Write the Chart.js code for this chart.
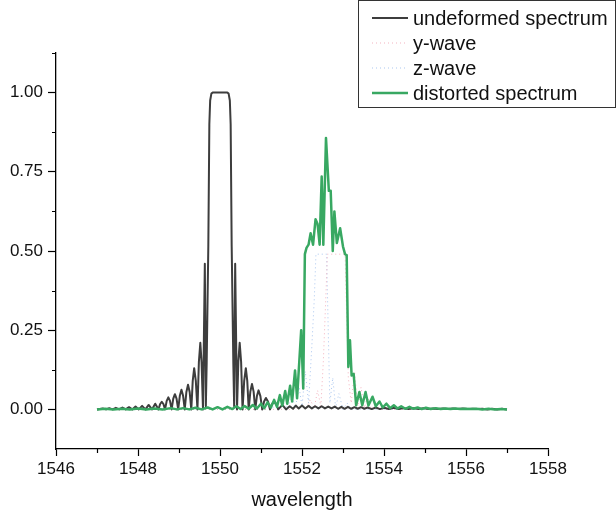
<!DOCTYPE html>
<html>
<head>
<meta charset="utf-8">
<script src="https://cdn.jsdelivr.net/npm/chart.js"></script>
<style>
  body { margin: 0; background: #fff; }
  #wrap { width: 616px; height: 514px; }
</style>
</head>
<body>
<div id="wrap"><canvas id="spec" width="616" height="514"></canvas></div>
<script>
// tick values
const xTicks = [1546, 1548, 1550, 1552, 1554, 1556, 1558];
const xMinor = [1547, 1549, 1551, 1553, 1555, 1557];
const yTicks = [0, 0.25, 0.5, 0.75, 1];
const yMinor = [0.125, 0.375, 0.625, 0.875, 1.125];

// undeformed spectrum
const undefX = [1547.00, 1547.14, 1547.22, 1547.30, 1547.38, 1547.46, 1547.54, 1547.62, 1547.70, 1547.78,
  1547.86, 1547.94, 1548.02, 1548.10, 1548.18, 1548.26, 1548.34, 1548.42, 1548.50,
  1548.54, 1548.58, 1548.62, 1548.66, 1548.70, 1548.74, 1548.78, 1548.82, 1548.86, 1548.90, 1548.94,
  1548.98, 1549.02, 1549.06, 1549.10, 1549.14, 1549.18, 1549.22, 1549.26, 1549.30, 1549.335,
  1549.37, 1549.41, 1549.45, 1549.485, 1549.52, 1549.55, 1549.585, 1549.63, 1549.655, 1549.675,
  1549.715, 1549.74, 1549.76, 1549.79, 1549.82, 1550.18, 1550.21, 1550.24, 1550.26, 1550.285,
  1550.325, 1550.345, 1550.37, 1550.415, 1550.447, 1550.48, 1550.515, 1550.55, 1550.59, 1550.63,
  1550.665, 1550.70, 1550.74, 1550.78, 1550.82, 1550.86, 1550.90, 1550.94, 1550.985, 1551.03,
  1551.075, 1551.12, 1551.17, 1551.22, 1551.27, 1551.32, 1551.37, 1551.42,
  1551.52, 1551.61, 1551.70, 1551.78, 1551.85, 1551.92, 1552.00, 1552.08,
  1552.16, 1552.24, 1552.32, 1552.40, 1552.48, 1552.56, 1552.64, 1552.72, 1552.80, 1552.88,
  1552.96, 1553.04, 1553.12, 1553.20, 1553.28, 1553.36, 1553.44, 1553.52, 1553.60, 1553.70,
  1553.80, 1553.90, 1554.00, 1554.12, 1554.24, 1554.36, 1554.48, 1554.60, 1554.72, 1554.84,
  1554.96, 1555.08, 1555.20, 1555.32, 1555.44, 1555.56, 1555.68, 1555.80, 1555.92, 1556.04,
  1556.16, 1556.28, 1556.40, 1556.52, 1556.64, 1556.76, 1556.88, 1557.00];
const undefY = [0.000, 0.003, 0.000, 0.004, 0.000, 0.005, 0.000, 0.006, 0.000, 0.007,
  0.000, 0.009, 0.000, 0.011, 0.000, 0.014, 0.000, 0.018, 0.000,
  0.017, 0.024, 0.017, 0.000, 0.027, 0.038, 0.027, 0.000, 0.034, 0.048, 0.034,
  0.000, 0.043, 0.062, 0.043, 0.000, 0.055, 0.078, 0.055, 0.000, 0.090,
  0.130, 0.090, 0.000, 0.150, 0.210, 0.150, 0.000, 0.460, 0.010, 0.145,
  0.515, 0.900, 0.975, 0.997, 1.000, 1.000, 0.997, 0.975, 0.900, 0.515,
  0.145, 0.010, 0.460, 0.000, 0.150, 0.210, 0.150, 0.000, 0.090, 0.130,
  0.090, 0.000, 0.056, 0.080, 0.056, 0.000, 0.042, 0.060, 0.042, 0.000,
  0.025, 0.036, 0.025, 0.000, 0.017, 0.024, 0.017, 0.000,
  0.014, 0.000, 0.010, 0.002, 0.012, 0.003, 0.012, 0.003,
  0.011, 0.003, 0.010, 0.003, 0.010, 0.003, 0.009, 0.003, 0.009, 0.002,
  0.008, 0.002, 0.008, 0.002, 0.007, 0.002, 0.007, 0.002, 0.006, 0.001,
  0.006, 0.001, 0.005, 0.001, 0.005, 0.001, 0.004, 0.001, 0.004, 0.001,
  0.004, 0.001, 0.003, 0.001, 0.003, 0.001, 0.003, 0.001, 0.003, 0.001,
  0.002, 0.001, 0.002, 0.000, 0.002, 0.000, 0.002, 0.000];

// y-wave
const yWaveX = [1547.00, 1551.80, 1552.00, 1552.10, 1552.20, 1552.30, 1552.38, 1552.46, 1552.52, 1552.58,
  1552.62, 1553.05, 1553.09, 1553.13, 1553.20, 1553.28, 1553.36, 1553.44, 1553.52, 1553.60,
  1553.70, 1553.80, 1553.90, 1557.00];
const yWaveY = [0, 0, 0.010, 0.000, 0.030, 0.005, 0.060, 0.010, 0.150, 0.350,
  0.490, 0.490, 0.300, 0.100, 0.020, 0.120, 0.010, 0.070, 0.005, 0.040,
  0.000, 0.020, 0.000, 0];

// z-wave
const zWaveX = [1547.00, 1551.20, 1551.35, 1551.45, 1551.55, 1551.65, 1551.75, 1551.84, 1551.93, 1552.00,
  1552.08, 1552.16, 1552.24, 1552.30, 1552.34, 1552.60, 1552.64, 1552.68, 1552.75, 1552.82,
  1552.90, 1553.00, 1553.10, 1553.20, 1557.00];
const zWaveY = [0, 0, 0.010, 0.000, 0.020, 0.003, 0.040, 0.006, 0.070, 0.010,
  0.120, 0.020, 0.200, 0.350, 0.490, 0.490, 0.250, 0.020, 0.100, 0.005,
  0.050, 0.000, 0.020, 0.000, 0];

// distorted spectrum
const distX = [1547.0, 1547.2, 1547.4, 1547.6, 1547.8, 1548.0, 1548.2, 1548.4, 1548.6, 1548.8,
  1548.95, 1549.1, 1549.25, 1549.4, 1549.55, 1549.7, 1549.82, 1549.94, 1550.06, 1550.18,
  1550.30, 1550.40, 1550.50, 1550.60, 1550.70, 1550.80, 1550.90, 1551.00, 1551.08, 1551.16,
  1551.24, 1551.32, 1551.39, 1551.46, 1551.52, 1551.59, 1551.64, 1551.71, 1551.76, 1551.83,
  1551.88, 1551.98, 1552.03, 1552.07, 1552.11, 1552.16, 1552.21, 1552.27, 1552.33, 1552.38,
  1552.43, 1552.48, 1552.52, 1552.585, 1552.655, 1552.70, 1552.75, 1552.79, 1552.85, 1552.93,
  1553.00, 1553.05, 1553.09, 1553.13, 1553.17, 1553.21, 1553.26, 1553.32, 1553.40, 1553.47,
  1553.55, 1553.62, 1553.72, 1553.80, 1553.89, 1553.97, 1554.06, 1554.15, 1554.24, 1554.33,
  1554.42, 1554.52, 1554.62, 1554.72, 1554.82, 1554.92, 1555.02, 1555.14, 1555.26, 1555.38,
  1555.50, 1555.62, 1555.74, 1555.86, 1555.98, 1556.10, 1556.25, 1556.40, 1556.55, 1556.70,
  1556.85, 1557.00];
const distY = [0.000, 0.002, 0.000, 0.002, 0.000, 0.003, 0.000, 0.003, 0.000, 0.004,
  0.000, 0.004, 0.000, 0.005, 0.000, 0.006, 0.000, 0.007, 0.000, 0.008,
  0.001, 0.010, 0.001, 0.011, 0.002, 0.014, 0.003, 0.018, 0.004, 0.022,
  0.006, 0.030, 0.008, 0.045, 0.012, 0.058, 0.018, 0.075, 0.025, 0.123,
  0.035, 0.250, 0.066, 0.490, 0.510, 0.520, 0.556, 0.520, 0.600, 0.585,
  0.520, 0.735, 0.520, 0.857, 0.690, 0.690, 0.500, 0.625, 0.525, 0.572,
  0.514, 0.490, 0.487, 0.134, 0.218, 0.107, 0.112, 0.013, 0.055, 0.013,
  0.055, 0.012, 0.040, 0.010, 0.025, 0.006, 0.018, 0.004, 0.013, 0.003,
  0.010, 0.002, 0.008, 0.002, 0.006, 0.001, 0.005, 0.001, 0.004, 0.001,
  0.003, 0.001, 0.003, 0.001, 0.002, 0.001, 0.002, 0.000, 0.002, 0.000,
  0.001, 0.000];

const pts = (xs, ys) => xs.map((x, i) => ({ x, y: ys[i] }));

Chart.defaults.font.family = '"Liberation Sans", Arial, sans-serif';
Chart.defaults.font.size = 17;
Chart.defaults.color = '#111';

// minor ticks and the boxed legend
const extras = {
  id: 'extras',
  afterDraw(chart) {
    const ctx = chart.ctx;
    const xs = chart.scales.x, ys = chart.scales.y;
    ctx.save();
    ctx.strokeStyle = '#000';
    ctx.lineWidth = 1.2;
    ctx.beginPath();
    xMinor.forEach(v => {
      const px = Math.round(xs.getPixelForValue(v)) + 0.5;
      ctx.moveTo(px, xs.top);
      ctx.lineTo(px, xs.top + 4);
    });
    yMinor.forEach(v => {
      const py = Math.round(ys.getPixelForValue(v)) + 0.5;
      ctx.moveTo(ys.right, py);
      ctx.lineTo(ys.right - 4, py);
    });
    ctx.stroke();

    // legend
    const bx = 358.5, by = 0.5, bw = 257, bh = 107;
    ctx.fillStyle = '#fff';
    ctx.fillRect(bx, by, bw, bh);
    ctx.strokeStyle = '#333';
    ctx.lineWidth = 1;
    ctx.strokeRect(bx, by, bw, bh);
    ctx.font = '20px "Liberation Sans", Arial, sans-serif';
    ctx.textBaseline = 'middle';
    chart.data.datasets.forEach((ds, i) => {
      const cy = 18 + i * 25;
      ctx.strokeStyle = ds.borderColor;
      ctx.lineWidth = ds.borderWidth;
      ctx.setLineDash(ds.borderDash || []);
      ctx.beginPath();
      ctx.moveTo(372, cy);
      ctx.lineTo(408, cy);
      ctx.stroke();
      ctx.setLineDash([]);
      ctx.fillStyle = '#111';
      ctx.fillText(ds.label, 413, cy + 1);
    });
    ctx.restore();
  }
};

new Chart(document.getElementById('spec'), {
  type: 'line',
  data: {
    datasets: [
      { label: 'undeformed spectrum', data: pts(undefX, undefY), borderColor: '#3d3d3d', borderWidth: 2, order: 1 },
      { label: 'y-wave', data: pts(yWaveX, yWaveY), borderColor: 'rgba(240,160,175,0.8)', borderWidth: 1, borderDash: [1, 3], order: 2 },
      { label: 'z-wave', data: pts(zWaveX, zWaveY), borderColor: 'rgba(150,185,235,0.8)', borderWidth: 1, borderDash: [1, 3], order: 3 },
      { label: 'distorted spectrum', data: pts(distX, distY), borderColor: '#38a862', borderWidth: 2.5, order: 0 }
    ]
  },
  options: {
    responsive: false,
    animation: false,
    elements: { point: { radius: 0 }, line: { tension: 0, borderJoinStyle: 'round', fill: false } },
    layout: { padding: { top: 53, right: 68, left: 0, bottom: 0 } },
    plugins: { legend: { display: false }, tooltip: { enabled: false } },
    scales: {
      x: {
        type: 'linear',
        min: 1546, max: 1558,
        afterBuildTicks: s => { s.ticks = xTicks.map(v => ({ value: v })); },
        afterFit: s => { s.height = 65; },
        ticks: { callback: v => String(v), padding: 3, maxRotation: 0, color: '#111' },
        grid: { drawOnChartArea: false, tickLength: 7, tickColor: '#000', tickWidth: 1.2 },
        border: { color: '#000', width: 1.3 },
        title: { display: true, text: 'wavelength', font: { size: 20 }, color: '#111', padding: { top: 0, bottom: 2 } }
      },
      y: {
        type: 'linear',
        min: -0.125, max: 1.125,
        afterBuildTicks: s => { s.ticks = yTicks.map(v => ({ value: v })); },
        afterFit: s => { s.width = 56; },
        ticks: { callback: v => v.toFixed(2), padding: 5, color: '#111' },
        grid: { drawOnChartArea: false, tickLength: 8, tickColor: '#000', tickWidth: 1.2 },
        border: { color: '#000', width: 1.3 }
      }
    }
  },
  plugins: [extras]
});
</script>
</body>
</html>
